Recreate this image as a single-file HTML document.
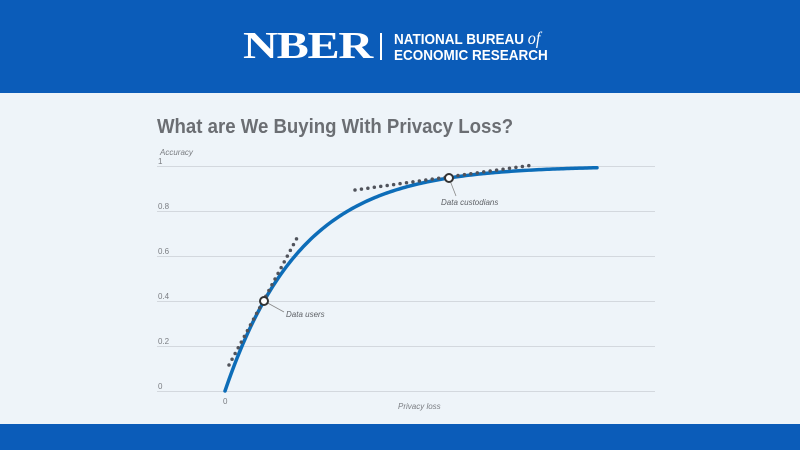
<!DOCTYPE html>
<html><head><meta charset="utf-8"><style>
html,body{margin:0;padding:0;width:800px;height:450px;overflow:hidden;background:#eef4f9;font-family:"Liberation Sans",sans-serif}
.top{position:absolute;left:0;top:0;width:800px;height:93px;background:#0b5cb9}
.bot{position:absolute;left:0;top:424px;width:800px;height:26px;background:#0b5cb9}
.logo{position:absolute;left:243px;top:26px;color:#fff;font-family:"Liberation Serif",serif;font-weight:bold;font-size:38px;letter-spacing:-1px;line-height:40px;transform:scaleX(1.27);transform-origin:0 0}
.bar{position:absolute;left:380px;top:33px;width:2px;height:27px;background:#fff}
.nb{position:absolute;left:394px;top:30px;color:#fff;font-weight:bold;font-size:15px;line-height:16px;transform:scaleX(0.9);transform-origin:0 0;white-space:nowrap}
.nb i{font-family:"Liberation Serif",serif;font-size:18px;font-weight:normal}
.title{position:absolute;left:157px;top:116px;font-size:20px;font-weight:bold;color:#6b6e73;transform:scaleX(0.93);transform-origin:0 0;white-space:nowrap}
</style></head><body>
<div class="top"></div><div class="bot"></div>
<div class="logo">NBER</div><div class="bar"></div>
<div class="nb">NATIONAL BUREAU <i>of</i><br>ECONOMIC RESEARCH</div>
<div class="title">What are We Buying With Privacy Loss?</div>
<svg width="800" height="450" style="position:absolute;left:0;top:0" font-family="Liberation Sans, sans-serif">
<g stroke="#d3d8de" stroke-width="1">
<line x1="157" y1="166.5" x2="655" y2="166.5"/>
<line x1="157" y1="211.5" x2="655" y2="211.5"/>
<line x1="157" y1="256.5" x2="655" y2="256.5"/>
<line x1="157" y1="301.5" x2="655" y2="301.5"/>
<line x1="157" y1="346.5" x2="655" y2="346.5"/>
<line x1="157" y1="391.5" x2="655" y2="391.5"/>
</g>
<g fill="#7a7d82" font-size="8">
<text x="158" y="164">1</text>
<text x="158" y="209">0.8</text>
<text x="158" y="254">0.6</text>
<text x="158" y="299">0.4</text>
<text x="158" y="344">0.2</text>
<text x="158" y="389">0</text>
<text x="223" y="404">0</text>
<text x="160" y="155" font-style="italic">Accuracy</text>
<text x="398" y="409" font-style="italic">Privacy loss</text>
<text x="441" y="205" font-style="italic" fill="#5e6166">Data custodians</text>
<text x="286" y="317" font-style="italic" fill="#5e6166">Data users</text>
</g>
<line x1="264" y1="301" x2="284" y2="312" stroke="#888" stroke-width="0.8"/>
<line x1="449" y1="178" x2="456" y2="196" stroke="#888" stroke-width="0.8"/>
<path id="c" fill="none" stroke="#0d6db8" stroke-width="3.5" stroke-linecap="round"/>
<g stroke="#50535b" stroke-width="3.5" stroke-dasharray="0 6.5" stroke-linecap="round" fill="none">
<line x1="229" y1="365" x2="297" y2="238"/>
<line x1="355" y1="190" x2="533" y2="165"/>
</g>
<circle cx="264" cy="301" r="4" fill="#fff" stroke="#333" stroke-width="2"/>
<circle cx="449" cy="178" r="4" fill="#fff" stroke="#333" stroke-width="2"/>
<script>
var d="";for(var x=0;x<=372;x+=2){var y=391-225*(1-Math.exp(-0.0131*x));d+=(x?"L":"M")+(225+x)+" "+y.toFixed(2);}
document.getElementById("c").setAttribute("d",d);
</script>
</svg>
</body></html>
